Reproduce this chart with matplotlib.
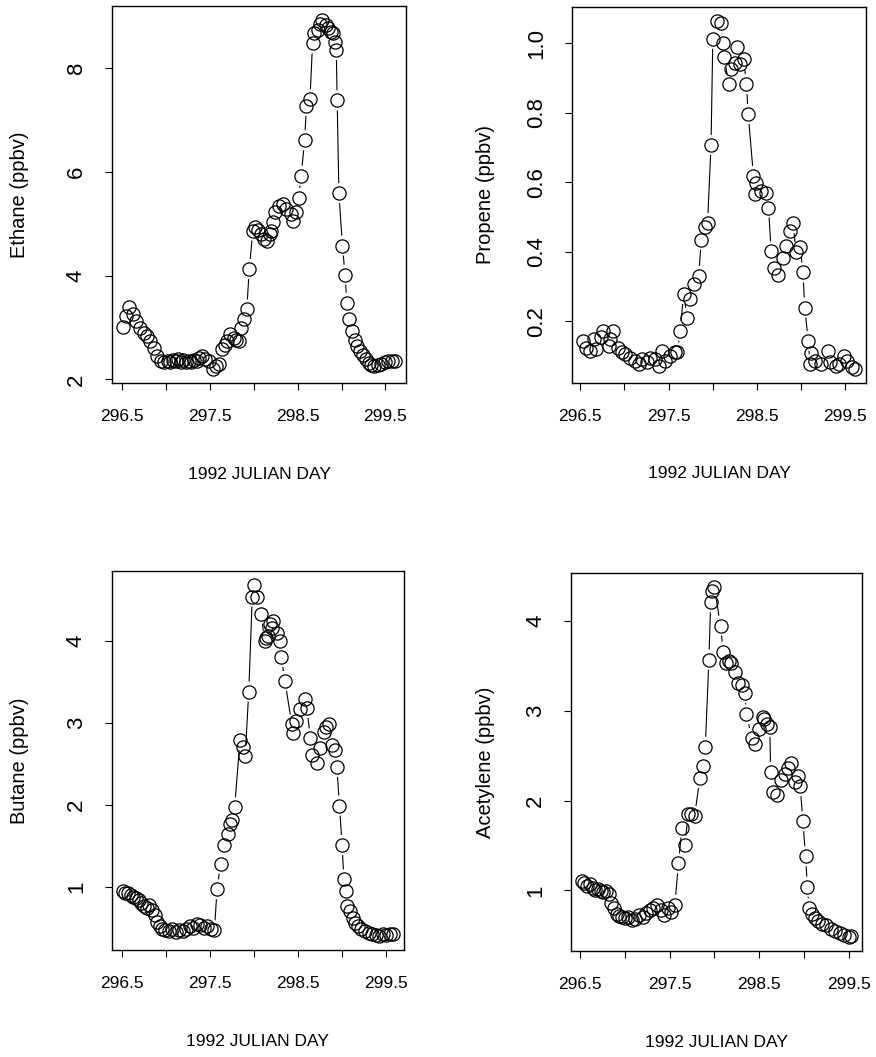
import numpy as np
import matplotlib
matplotlib.use("Agg")
import matplotlib.pyplot as plt
from matplotlib.collections import LineCollection

plt.rcParams['font.family'] = ['Liberation Sans', 'DejaVu Sans']

# --- data (1992 Julian day, ppbv) ---
ethane_day = [296.51, 296.54, 296.58, 296.62, 296.66, 296.70, 296.75, 296.79, 296.82, 296.86,
              296.90, 296.94, 296.98, 297.02, 297.05, 297.08, 297.11, 297.14, 297.17, 297.20,
              297.23, 297.26, 297.29, 297.32, 297.35, 297.38, 297.41, 297.45, 297.49, 297.54,
              297.57, 297.60, 297.64, 297.67, 297.69, 297.73, 297.77, 297.80, 297.83, 297.86,
              297.89, 297.92, 297.95, 297.99, 298.02, 298.05, 298.08, 298.12, 298.15, 298.18,
              298.20, 298.22, 298.24, 298.29, 298.33, 298.37, 298.42, 298.45, 298.48, 298.51,
              298.54, 298.58, 298.60, 298.64, 298.67, 298.69, 298.73, 298.76, 298.78, 298.82,
              298.85, 298.88, 298.90, 298.92, 298.94, 298.95, 298.97, 299.01, 299.04, 299.06,
              299.09, 299.12, 299.15, 299.18, 299.21, 299.24, 299.28, 299.31, 299.34, 299.37,
              299.41, 299.45, 299.49, 299.53, 299.57, 299.61]
ethane = [3.02, 3.22, 3.39, 3.26, 3.13, 3.00, 2.90, 2.84, 2.74, 2.61,
          2.45, 2.35, 2.33, 2.36, 2.33, 2.38, 2.35, 2.39, 2.34, 2.37,
          2.33, 2.36, 2.34, 2.38, 2.36, 2.41, 2.45, 2.39, 2.35, 2.20,
          2.25, 2.30, 2.58, 2.66, 2.74, 2.87, 2.80, 2.76, 2.74, 3.00,
          3.16, 3.35, 4.13, 4.87, 4.93, 4.88, 4.80, 4.71, 4.67, 4.80,
          4.87, 5.03, 5.22, 5.35, 5.38, 5.29, 5.19, 5.06, 5.22, 5.50,
          5.93, 6.61, 7.27, 7.40, 8.48, 8.67, 8.74, 8.85, 8.93, 8.83,
          8.77, 8.70, 8.67, 8.51, 8.35, 7.38, 5.59, 4.58, 4.02, 3.48,
          3.16, 2.93, 2.76, 2.64, 2.55, 2.47, 2.40, 2.32, 2.27, 2.25,
          2.28, 2.30, 2.33, 2.35, 2.36, 2.36]

propene_day = [296.53, 296.57, 296.61, 296.66, 296.68, 296.74, 296.76, 296.82, 296.84, 296.87,
               296.93, 296.97, 297.01, 297.06, 297.12, 297.16, 297.20, 297.25, 297.29, 297.35,
               297.39, 297.42, 297.46, 297.52, 297.57, 297.60, 297.63, 297.67, 297.71, 297.74,
               297.79, 297.84, 297.87, 297.91, 297.94, 297.98, 298.00, 298.05, 298.09, 298.12,
               298.13, 298.18, 298.21, 298.25, 298.27, 298.31, 298.35, 298.38, 298.40, 298.46,
               298.48, 298.49, 298.54, 298.60, 298.63, 298.66, 298.69, 298.74, 298.79, 298.83,
               298.87, 298.91, 298.94, 298.99, 299.02, 299.04, 299.08, 299.10, 299.11, 299.16,
               299.22, 299.30, 299.33, 299.39, 299.43, 299.48, 299.52, 299.58, 299.61]
propene = [0.143, 0.124, 0.115, 0.148, 0.119, 0.153, 0.172, 0.129, 0.148, 0.172,
           0.124, 0.110, 0.105, 0.095, 0.086, 0.076, 0.091, 0.081, 0.095, 0.091,
           0.071, 0.115, 0.086, 0.100, 0.110, 0.110, 0.172, 0.278, 0.210, 0.263,
           0.306, 0.330, 0.434, 0.470, 0.482, 0.707, 1.013, 1.064, 1.058, 1.000,
           0.959, 0.882, 0.925, 0.944, 0.988, 0.940, 0.954, 0.882, 0.796, 0.618,
           0.565, 0.597, 0.575, 0.570, 0.527, 0.401, 0.352, 0.332, 0.383, 0.415,
           0.460, 0.482, 0.399, 0.412, 0.340, 0.239, 0.143, 0.076, 0.107, 0.086,
           0.076, 0.115, 0.081, 0.071, 0.076, 0.100, 0.086, 0.067, 0.062]

butane_day = [296.51, 296.54, 296.57, 296.60, 296.63, 296.66, 296.69, 296.72, 296.75, 296.78,
              296.81, 296.84, 296.87, 296.90, 296.93, 296.96, 296.99, 297.03, 297.07, 297.11,
              297.15, 297.19, 297.23, 297.27, 297.31, 297.35, 297.39, 297.43, 297.47, 297.51,
              297.55, 297.58, 297.62, 297.66, 297.70, 297.73, 297.75, 297.78, 297.84, 297.87,
              297.90, 297.94, 297.98, 298.00, 298.03, 298.08, 298.12, 298.14, 298.16, 298.18,
              298.20, 298.22, 298.26, 298.29, 298.31, 298.35, 298.43, 298.44, 298.48, 298.52,
              298.58, 298.60, 298.64, 298.66, 298.71, 298.75, 298.79, 298.82, 298.85, 298.89,
              298.92, 298.94, 298.97, 299.00, 299.02, 299.04, 299.06, 299.09, 299.12, 299.15,
              299.18, 299.22, 299.26, 299.30, 299.34, 299.38, 299.42, 299.46, 299.50, 299.54,
              299.58]
butane = [0.95, 0.93, 0.92, 0.90, 0.88, 0.86, 0.84, 0.80, 0.76, 0.74,
          0.78, 0.72, 0.65, 0.57, 0.52, 0.48, 0.47, 0.46, 0.48, 0.45,
          0.47, 0.46, 0.49, 0.52, 0.50, 0.55, 0.53, 0.50, 0.52, 0.49,
          0.47, 0.97, 1.28, 1.51, 1.64, 1.76, 1.81, 1.97, 2.79, 2.71,
          2.60, 3.38, 4.54, 4.68, 4.54, 4.33, 4.00, 4.04, 4.06, 4.20,
          4.15, 4.24, 4.10, 4.00, 3.80, 3.51, 2.98, 2.87, 3.02, 3.17,
          3.29, 3.18, 2.81, 2.61, 2.51, 2.69, 2.89, 2.95, 2.98, 2.73,
          2.67, 2.46, 1.99, 1.51, 1.09, 0.95, 0.77, 0.71, 0.62, 0.56,
          0.52, 0.48, 0.46, 0.44, 0.42, 0.41, 0.40, 0.42, 0.41, 0.43,
          0.43]

acetylene_day = [296.52, 296.55, 296.58, 296.61, 296.64, 296.67, 296.70, 296.73, 296.76, 296.79,
                 296.82, 296.85, 296.88, 296.91, 296.94, 296.97, 297.00, 297.04, 297.08, 297.12,
                 297.16, 297.20, 297.24, 297.28, 297.32, 297.36, 297.40, 297.44, 297.48, 297.52,
                 297.56, 297.60, 297.64, 297.67, 297.71, 297.74, 297.78, 297.84, 297.87, 297.90,
                 297.94, 297.96, 297.98, 298.00, 298.07, 298.10, 298.13, 298.16, 298.19, 298.23,
                 298.27, 298.31, 298.34, 298.36, 298.42, 298.46, 298.50, 298.54, 298.56, 298.59,
                 298.62, 298.63, 298.66, 298.70, 298.75, 298.79, 298.82, 298.86, 298.90, 298.93,
                 298.96, 298.99, 299.02, 299.04, 299.06, 299.09, 299.12, 299.16, 299.20, 299.25,
                 299.30, 299.35, 299.40, 299.45, 299.50, 299.53]
acetylene = [1.10, 1.08, 1.05, 1.07, 1.03, 1.00, 1.01, 0.99, 0.98, 0.99,
             0.96, 0.86, 0.80, 0.74, 0.71, 0.70, 0.69, 0.70, 0.67, 0.68,
             0.72, 0.70, 0.75, 0.78, 0.80, 0.84, 0.78, 0.73, 0.80, 0.76,
             0.84, 1.30, 1.70, 1.50, 1.85, 1.85, 1.83, 2.25, 2.39, 2.60,
             3.57, 4.21, 4.34, 4.38, 3.95, 3.66, 3.53, 3.55, 3.53, 3.43,
             3.31, 3.29, 3.20, 2.96, 2.70, 2.63, 2.80, 2.93, 2.91, 2.85,
             2.82, 2.32, 2.10, 2.06, 2.23, 2.30, 2.36, 2.42, 2.21, 2.27,
             2.16, 1.77, 1.38, 1.04, 0.80, 0.74, 0.69, 0.66, 0.63, 0.61,
             0.57, 0.55, 0.52, 0.50, 0.48, 0.49]

day_ticks = [296.5, 297.0, 297.5, 298.0, 298.5, 299.0, 299.5]
day_labels = ['296.5', '', '297.5', '', '298.5', '', '299.5']

panels = [
    # (days, values, ylabel, yticks, ytick labels, axes rect in px: left, top, right, bottom, ylabel x)
    (ethane_day, ethane, 'Ethane (ppbv)', [2, 4, 6, 8], ['2', '4', '6', '8'],
     (112, 6, 406, 383), -0.282),
    (propene_day, propene, 'Propene (ppbv)', [0.2, 0.4, 0.6, 0.8, 1.0],
     ['0.2', '0.4', '0.6', '0.8', '1.0'], (572, 7, 866, 383), -0.262),
    (butane_day, butane, 'Butane (ppbv)', [1, 2, 3, 4], ['1', '2', '3', '4'],
     (112, 571, 404, 950), -0.284),
    (acetylene_day, acetylene, 'Acetylene (ppbv)', [1, 2, 3, 4], ['1', '2', '3', '4'],
     (571, 573, 862, 951), -0.261),
]

W, H = 876, 1057
fig = plt.figure(figsize=(W / 100, H / 100), dpi=100)


def r_range(v):
    # R-style axis range: data range expanded by 4% on each side
    lo, hi = min(v), max(v)
    pad = 0.04 * (hi - lo)
    return lo - pad, hi + pad


def gapped_lines(ax, x, y, gap=10):
    # R type="b": segments between points, with a gap around each circle
    pts = ax.transData.transform(np.column_stack([x, y]))
    inv = ax.transData.inverted()
    segs = []
    for p, q in zip(pts[:-1], pts[1:]):
        d = q - p
        L = np.hypot(*d)
        if L > 2 * gap:
            u = d / L
            segs.append(inv.transform(np.array([p + u * gap, q - u * gap])))
    ax.add_collection(LineCollection(segs, colors='black', linewidths=0.8))


for days, vals, ylab, yt, ytl, (l, t, r, b), ylx in panels:
    ax = fig.add_axes([l / W, 1 - b / H, (r - l) / W, (b - t) / H])
    ax.set_xlim(*r_range(days))
    ax.set_ylim(*r_range(vals))
    ax.plot(days, vals, linestyle='none', marker='o', markersize=9.5,
            fillstyle='none', markeredgecolor='black', markeredgewidth=0.9)
    gapped_lines(ax, days, vals)

    ax.set_xticks(day_ticks)
    ax.set_xticklabels(day_labels, fontsize=12.5)
    ax.set_yticks(yt)
    ax.set_yticklabels(ytl, fontsize=16, rotation=90, va='center')
    ax.tick_params(axis='x', direction='out', length=5, width=0.8, pad=14)
    ax.tick_params(axis='y', direction='out', length=5, width=0.8, pad=13)
    for s in ax.spines.values():
        s.set_linewidth(1.0)

    ax.set_xlabel('1992 JULIAN DAY', fontsize=12.5)
    ax.set_ylabel(ylab, fontsize=14.5)
    ax.xaxis.set_label_coords(0.5, -0.222)
    ax.yaxis.set_label_coords(ylx, 0.5)

fig.savefig('out.png', dpi=100)
